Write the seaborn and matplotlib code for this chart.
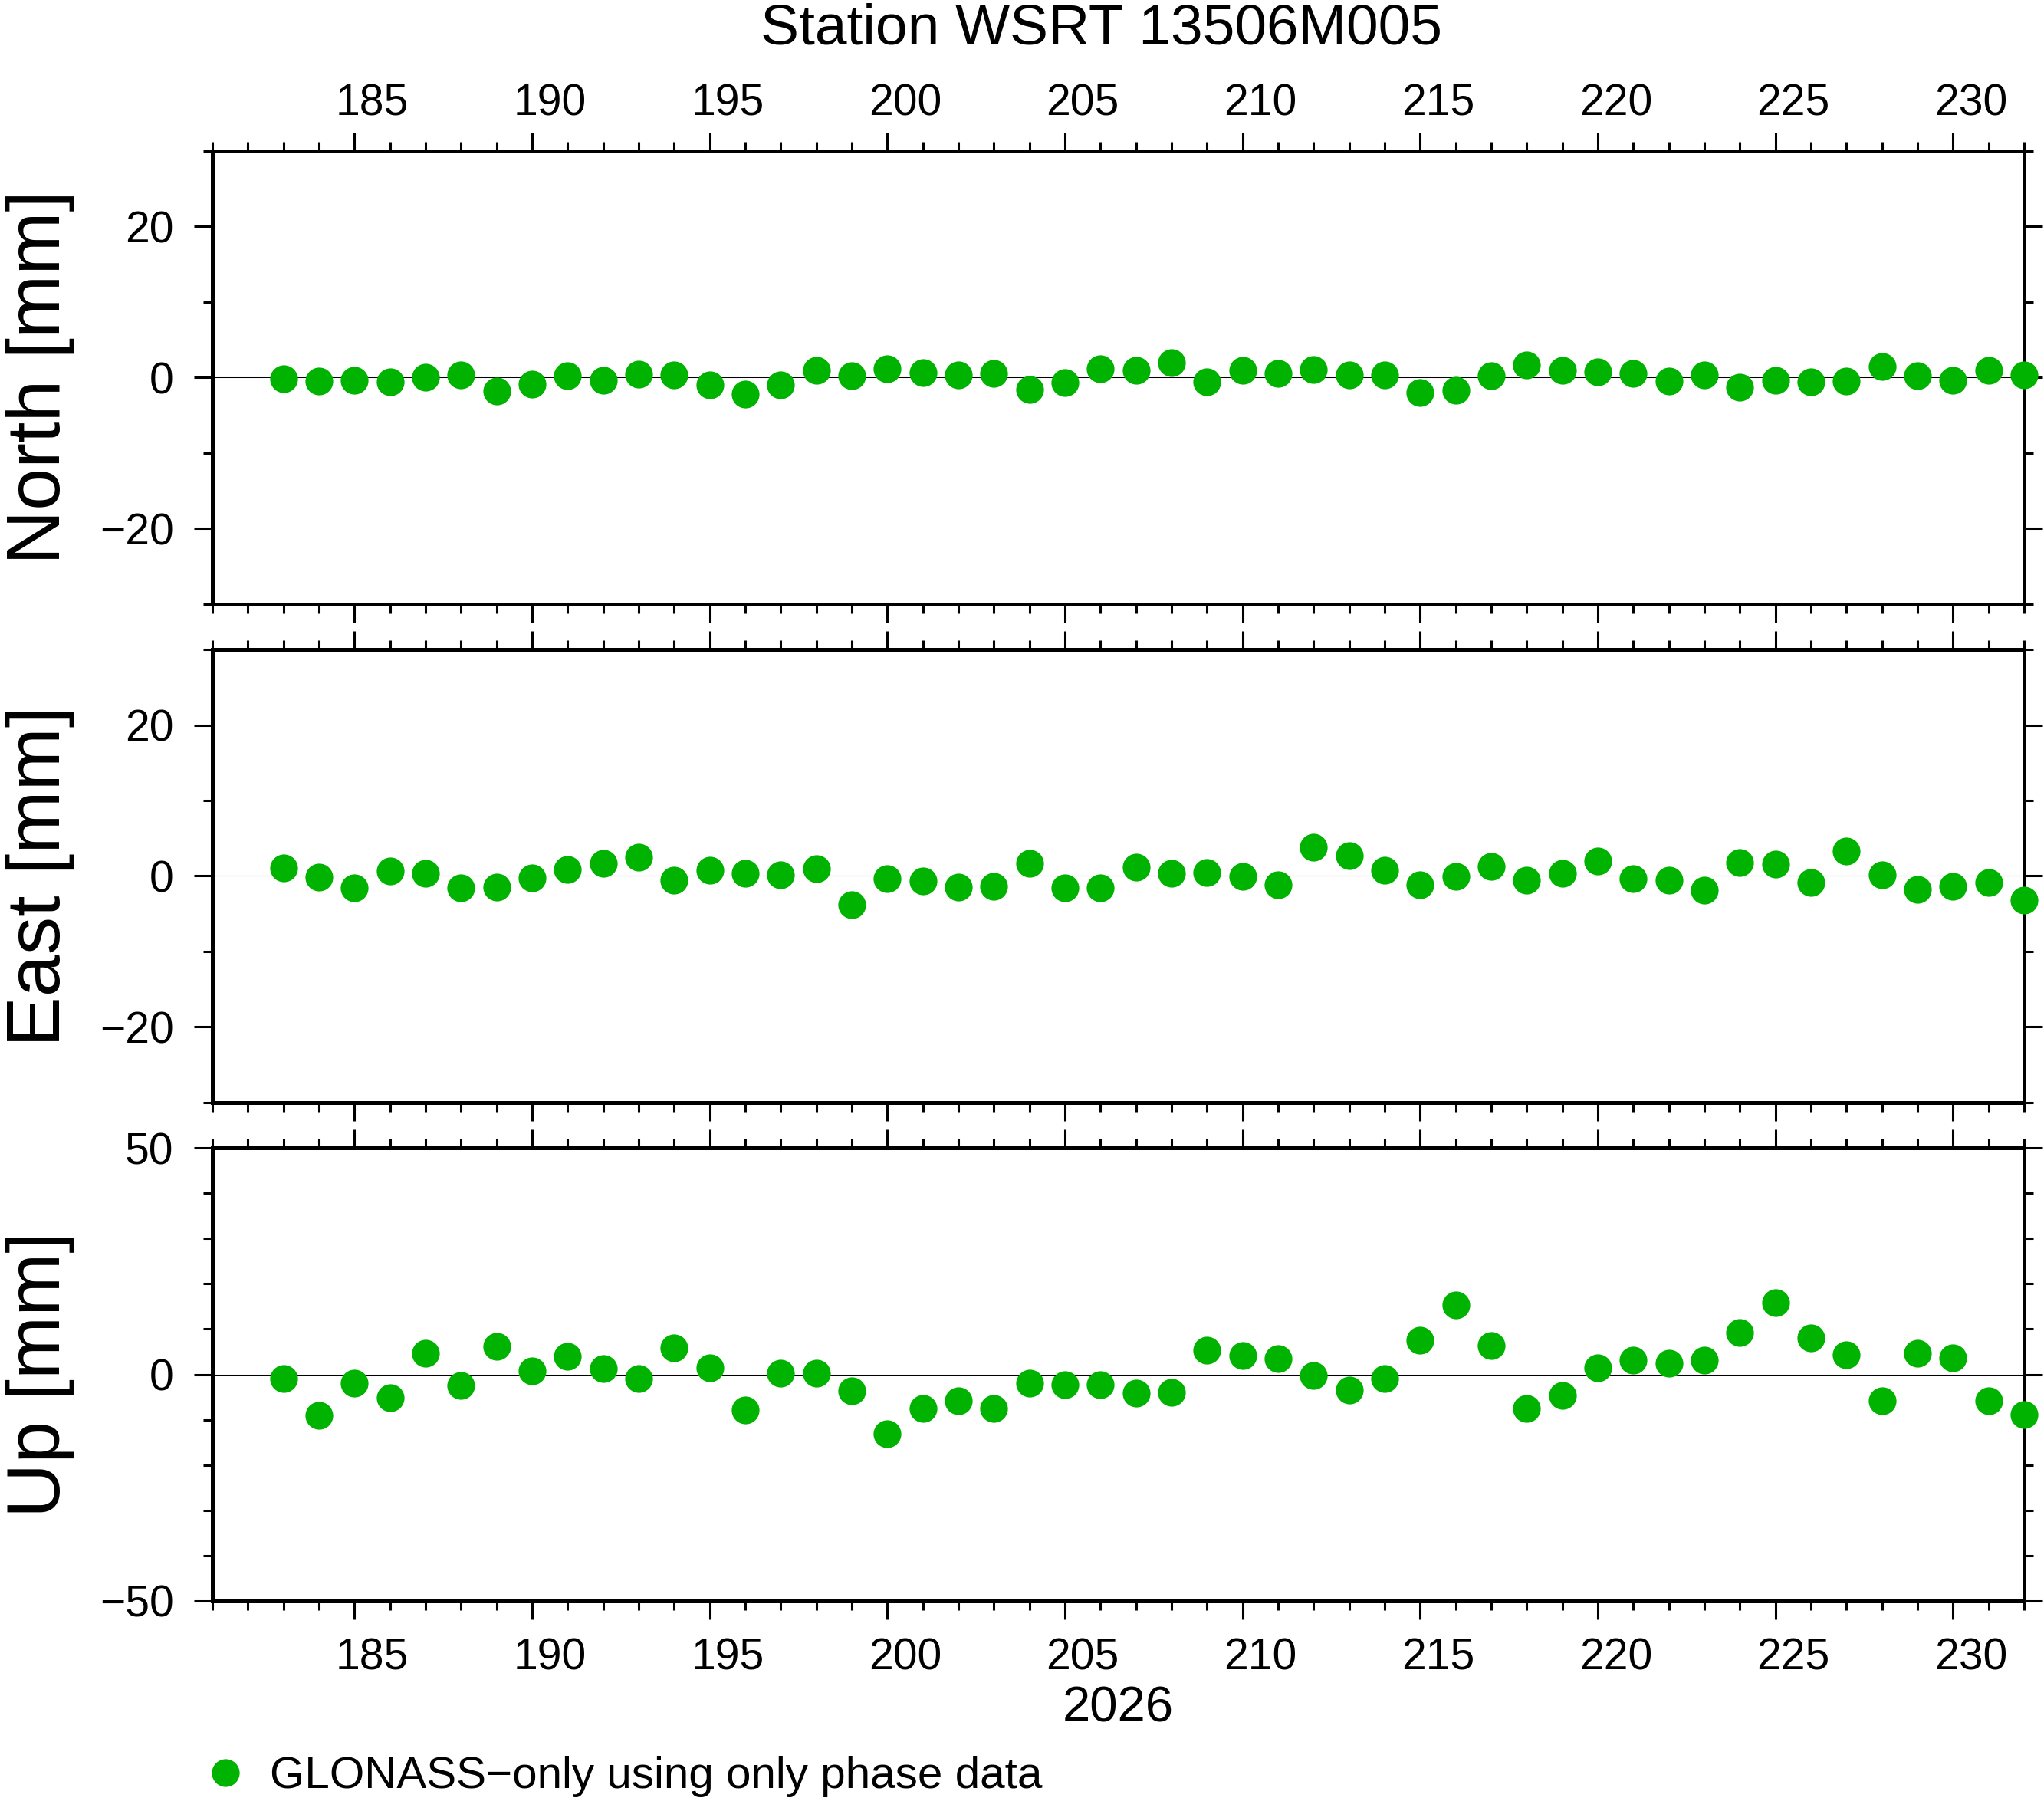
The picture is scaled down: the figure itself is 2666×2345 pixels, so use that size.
import matplotlib
matplotlib.use('Agg')
import matplotlib.pyplot as plt
from matplotlib.ticker import MultipleLocator
import seaborn as sns
import pandas as pd

doy = [183, 184, 185, 186, 187, 188, 189, 190, 191, 192,
       193, 194, 195, 196, 197, 198, 199, 200, 201, 202,
       203, 204, 205, 206, 207, 208, 209, 210, 211, 212,
       213, 214, 215, 216, 217, 218, 219, 220, 221, 222,
       223, 224, 225, 226, 227, 228, 229, 230, 231, 232]

north = [-0.2, -0.5, -0.4, -0.6, 0.0, 0.4, -1.8, -0.9, 0.2, -0.4,
         0.5, 0.3, -1.0, -2.2, -1.0, 1.0, 0.2, 1.2, 0.7, 0.3,
         0.6, -1.6, -0.7, 1.2, 1.0, 2.0, -0.6, 1.0, 0.6, 1.1,
         0.3, 0.4, -2.0, -1.7, 0.2, 1.7, 1.0, 0.8, 0.6, -0.5,
         0.3, -1.3, -0.4, -0.6, -0.5, 1.5, 0.2, -0.4, 1.0, 0.4]

east = [1.1, -0.2, -1.6, 0.7, 0.4, -1.6, -1.5, -0.3, 0.9, 1.7,
        2.5, -0.6, 0.8, 0.4, 0.1, 1.0, -3.8, -0.4, -0.7, -1.5,
        -1.4, 1.7, -1.6, -1.6, 1.2, 0.4, 0.5, -0.1, -1.2, 3.8,
        2.7, 0.8, -1.2, -0.1, 1.3, -0.6, 0.4, 2.0, -0.4, -0.6,
        -1.9, 1.8, 1.6, -0.9, 3.3, 0.2, -1.8, -1.4, -0.9, -3.2]

up = [-1.0, -9.0, -2.0, -5.1, 4.6, -2.5, 6.1, 0.8, 3.9, 1.2,
      -1.0, 5.9, 1.5, -7.8, 0.3, 0.2, -3.6, -13.1, -7.6, -5.9,
      -7.6, -2.0, -2.2, -2.2, -4.2, -3.9, 5.4, 4.2, 3.4, -0.3,
      -3.4, -1.0, 7.6, 15.4, 6.4, -7.5, -4.6, 1.4, 3.1, 2.5,
      3.1, 9.3, 15.9, 8.1, 4.4, -5.8, 4.6, 3.7, -5.8, -8.8]

label_days = [185, 190, 195, 200, 205, 210, 215, 220, 225, 230]
components = ['North', 'East', 'Up']
ylimits = [30, 30, 50]
ymajor = [20, 20, 50]

GREEN = '#00b300'
df = pd.DataFrame({'doy': doy, 'North': north, 'East': east, 'Up': up})

sns.set_style('ticks')
plt.rcParams['font.family'] = ['Liberation Sans', 'DejaVu Sans']
plt.rcParams['axes.unicode_minus'] = True
for key in ['text.color', 'axes.edgecolor', 'axes.labelcolor',
            'xtick.color', 'ytick.color']:
    plt.rcParams[key] = 'black'

fig = plt.figure(figsize=(26.66, 23.45), dpi=100)
left, width, height = 0.1039, 0.8864, 0.2520
bottoms = [0.6640, 0.3868, 0.1096]

axes = []
for i, comp in enumerate(components):
    ax = fig.add_axes([left, bottoms[i], width, height])
    axes.append(ax)
    ax.axhline(0, color='black', lw=0.75, zorder=1)
    sns.scatterplot(data=df, x='doy', y=comp, ax=ax, color=GREEN, s=680,
                    linewidth=0, clip_on=False, zorder=3, legend=False,
                    label='GLONASS\u2212only using only phase data')
    ax.set_xlim(181, 232)
    ax.set_ylim(-ylimits[i], ylimits[i])
    ax.xaxis.set_major_locator(MultipleLocator(5))
    ax.xaxis.set_minor_locator(MultipleLocator(1))
    ax.yaxis.set_major_locator(MultipleLocator(ymajor[i]))
    ax.yaxis.set_minor_locator(MultipleLocator(10))
    for sp in ax.spines.values():
        sp.set_visible(True)
        sp.set_linewidth(3.6)
        sp.set_color('black')
    ax.tick_params(which='both', direction='out', width=2.2, color='black',
                   top=True, bottom=True, left=True, right=True,
                   labeltop=False, labelbottom=False, labelright=False)
    ax.tick_params(which='major', length=17.3)
    ax.tick_params(which='minor', length=8.6)
    ax.tick_params(axis='y', labelsize=41, pad=19, labelcolor='black')
    ax.set_ylabel(f'{comp} [mm]', fontsize=71, color='black')
    ax.yaxis.set_label_coords(-0.0757, 0.5)
    ax.set_xlabel('')

# day annotations sit in the middle of each day interval
sec_top = axes[0].secondary_xaxis('top')
sec_top.set_xticks([d + 0.5 for d in label_days], labels=[str(d) for d in label_days])
sec_top.tick_params(length=0, pad=25, labelsize=41, labelcolor='black')
sec_top.spines['top'].set_visible(False)

sec_bot = axes[2].secondary_xaxis('bottom')
sec_bot.set_xticks([d + 0.5 for d in label_days], labels=[str(d) for d in label_days])
sec_bot.tick_params(length=0, pad=34, labelsize=41, labelcolor='black')
sec_bot.spines['bottom'].set_visible(False)

axes[2].set_xlabel('2026', fontsize=47, color='black')
axes[2].xaxis.set_label_coords(0.5, -0.187)

fig.text(0.539, 1 - 57 / 2345, 'Station WSRT 13506M005', fontsize=54,
         ha='center', va='baseline', color='black')

handles, labels = axes[2].get_legend_handles_labels()
fig.legend(handles[:1], labels[:1], loc='center left',
           bbox_to_anchor=(273.6 / 2666, 1 - 2317 / 2345),
           frameon=False, fontsize=42, borderpad=0, borderaxespad=0,
           handlelength=0.7, handletextpad=0.64, scatterpoints=1,
           scatteryoffsets=[0.5], labelcolor='black')

plt.savefig('out.png', dpi=100)
